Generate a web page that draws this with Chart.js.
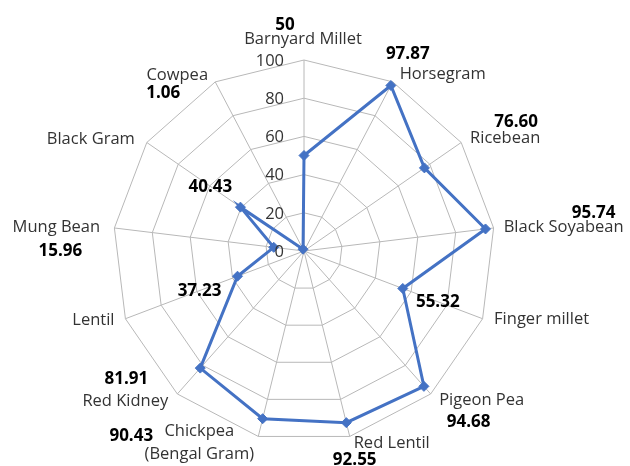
<!DOCTYPE html>
<html>
<head>
<meta charset="utf-8">
<script src="https://cdn.jsdelivr.net/npm/chart.js@4"></script>
<style>
  html, body { margin: 0; padding: 0; background: #fff; }
  #wrap { width: 630px; height: 466px; }
</style>
</head>
<body>
<div id="wrap"><canvas id="radar" width="630" height="466"></canvas></div>
<script>
'use strict';

/* ── Data ─────────────────────────────────────────────────────────── */
const categories = [
  'Barnyard Millet', 'Horsegram', 'Ricebean', 'Black Soyabean', 'Finger millet',
  'Pigeon Pea', 'Red Lentil', ['Chickpea', '(Bengal Gram)'], 'Red Kidney',
  'Lentil', 'Mung Bean', 'Black Gram', 'Cowpea',
];
const values     = [50, 97.87, 76.60, 95.74, 55.32, 94.68, 92.55, 90.43, 81.91, 37.23, 15.96, 40.43, 1.06];
const valueText  = ['50', '97.87', '76.60', '95.74', '55.32', '94.68', '92.55', '90.43', '81.91', '37.23', '15.96', '40.43', '1.06'];
const tickValues = [0, 20, 40, 60, 80, 100];

/* ── Label placement (offsets in px) ──────────────────────────────── */
// category name: offset from the outer (100) vertex
const nameOffsets = [
  [-1, -21], [50, -8], [44, -4], [70, -1], [59, 1], [51, 6], [42, 7],
  [-59, -5], [-52, 7], [-32, 2], [-58, -1], [-56, -3], [-38, -7],
];
// value label: offset from the outer vertex ('edge') or from the data point ('point')
const valueAnchor = ['edge', 'edge', 'edge', 'edge', 'point', 'edge', 'edge', 'edge', 'edge', 'point', 'edge', 'point', 'edge'];
const valueOffsets = [
  [-19, -35], [15, -28], [55, -20], [100, -15], [35, 14], [38, 28], [5, 24],
  [-127, 0], [-51, -15], [-38, 15], [-54, 23], [-30, -20], [-52, 11],
];

/* ── Design tokens ────────────────────────────────────────────────── */
const C = {
  line:  '#4472c4',
  grid:  '#b8b8b8',
  text:  '#333333',
  value: '#000000',
};
const FONT = '"Open Sans", sans-serif';

/* ── Custom labels (category names, values, ticks) ────────────────── */
const labelPlugin = {
  id: 'radarLabels',
  afterDraw(chart) {
    const scale = chart.scales.r;
    const ctx = chart.ctx;
    ctx.save();
    ctx.textBaseline = 'middle';

    // tick labels, right aligned left of the vertical axis
    ctx.font = `16.5px ${FONT}`;
    ctx.fillStyle = C.text;
    ctx.textAlign = 'right';
    tickValues.forEach(v => {
      const y = scale.yCenter - scale.getDistanceFromCenterForValue(v);
      ctx.fillText(String(v), scale.xCenter - 20, y + 1);
    });

    ctx.textAlign = 'center';
    categories.forEach((name, i) => {
      const edge = scale.getPointPositionForValue(i, 100);
      const lines = Array.isArray(name) ? name : [name];
      ctx.font = `16.5px ${FONT}`;
      ctx.fillStyle = C.text;
      lines.forEach((ln, k) => {
        ctx.fillText(ln, edge.x + nameOffsets[i][0], edge.y + nameOffsets[i][1] + k * 23);
      });

      const base = valueAnchor[i] === 'point' ? scale.getPointPositionForValue(i, values[i]) : edge;
      ctx.font = `bold 17px ${FONT}`;
      ctx.fillStyle = C.value;
      ctx.fillText(valueText[i], base.x + valueOffsets[i][0], base.y + valueOffsets[i][1]);
    });
    ctx.restore();
  },
};

new Chart(document.getElementById('radar'), {
  type: 'radar',
  data: {
    labels: categories,
    datasets: [{
      data:                 values,
      borderColor:          C.line,
      borderWidth:          3,
      backgroundColor:      'transparent',
      fill:                 false,
      pointStyle:           'rectRot',
      pointRadius:          5,
      pointBackgroundColor: C.line,
      pointBorderColor:     C.line,
      pointBorderWidth:     1,
      tension:              0,
    }],
  },
  options: {
    responsive: false,
    animation:  false,
    layout:     { padding: { left: 113, right: 135, top: 60, bottom: 24 } },
    plugins: {
      legend:  { display: false },
      tooltip: { enabled: false },
    },
    scales: {
      r: {
        min: 0,
        max: 100,
        ticks:       { display: false, stepSize: 20 },
        grid:        { color: C.grid, lineWidth: 1, circular: false },
        angleLines:  { color: C.grid, lineWidth: 1 },
        pointLabels: { display: false },
      },
    },
  },
  plugins: [labelPlugin],
});
</script>
</body>
</html>
